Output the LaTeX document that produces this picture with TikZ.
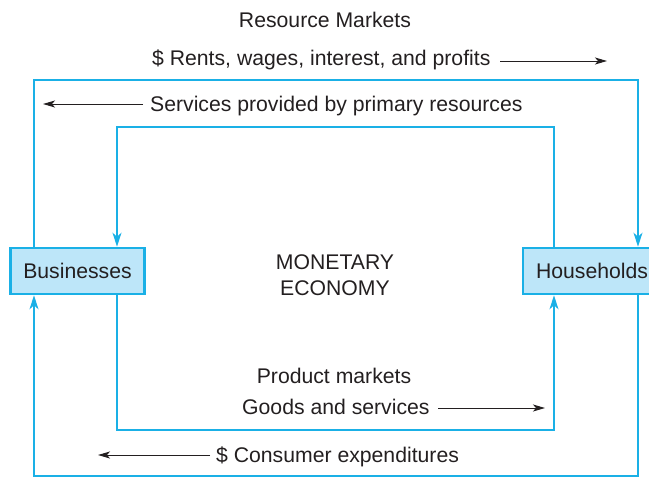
\documentclass[tikz,border=0pt]{standalone}
\usepackage{fontspec}
\setmainfont{Liberation Sans}
\usetikzlibrary{arrows.meta}
\definecolor{cyanline}{HTML}{1AB0E6}
\definecolor{boxfill}{HTML}{BDE6F9}
\definecolor{txt}{HTML}{231F20}
\tikzset{
  flow/.style={draw=cyanline, line width=1.6pt, -{Stealth[length=14pt,width=9pt,inset=4pt]}, line join=miter},
  blk/.style={draw=txt, line width=1pt, -{Stealth[length=12pt,width=7pt,inset=3pt]}},
  agent/.style={draw=cyanline, fill=boxfill, line width=2.6pt, minimum height=46pt, inner sep=0pt, text=txt, font=\fontsize{21.2}{25}\selectfont},
  lbl/.style={inner sep=0pt, text=txt, font=\fontsize{21.2}{25}\selectfont}
}
\begin{document}
\begin{tikzpicture}[x=1pt,y=-1pt]
\useasboundingbox (0,0) rectangle (649,477);
% corner coordinates
\coordinate (otl) at (34,80);
\coordinate (otr) at (638,80);
\coordinate (obl) at (34,476);
\coordinate (obr) at (638,476);
\coordinate (itl) at (117,127);
\coordinate (itr) at (554,127);
\coordinate (ibl) at (117,430);
\coordinate (ibr) at (554,430);
% agents
\node[agent, minimum width=134pt] (bus) at (77.5,271) {Businesses};
\node[agent, minimum width=138pt] (hh) at (592,271) {Households};
% flows
\draw[flow] (bus.north -| otl) -- (otl) -- (otr) -- (hh.north -| otr);
\draw[flow] (hh.north -| itr) -- (itr) -- (itl) -- (bus.north -| itl);
\draw[flow] (bus.south -| ibl) -- (ibl) -- (ibr) -- (hh.south -| ibr);
\draw[flow] (hh.south -| obr) -- (obr) -- (obl) -- (bus.south -| obl);
% redraw boxes on top
\node[agent, minimum width=134pt] at (bus) {Businesses};
\node[agent, minimum width=138pt] at (hh) {Households};
% labels
\node[lbl, anchor=base] (rm) at (325,27.5) {Resource Markets};
\node[lbl, anchor=base west] (rents) at (152,65.5) {\$ Rents, wages, interest, and profits};
\node[lbl, anchor=base west] (serv) at (150,111.5) {Services provided by primary resources};
\node[lbl, anchor=base] (mon) at (335,269.5) {MONETARY};
\node[lbl, anchor=base] (eco) at (335,295.5) {ECONOMY};
\node[lbl, anchor=base] (pm) at (334,383.5) {Product markets};
\node[lbl, anchor=base west] (goods) at (242,414) {Goods and services};
\node[lbl, anchor=base west] (cons) at (216,462) {\$ Consumer expenditures};
% label arrows
\coordinate (a1s) at (500,61); \coordinate (a1e) at (607,61);
\coordinate (a2s) at (143,104); \coordinate (a2e) at (43,104);
\coordinate (a3s) at (438,408); \coordinate (a3e) at (545,408);
\coordinate (a4s) at (210,455); \coordinate (a4e) at (98,455);
\draw[blk] (a1s) -- (a1e);
\draw[blk] (a2s) -- (a2e);
\draw[blk] (a3s) -- (a3e);
\draw[blk] (a4s) -- (a4e);
\end{tikzpicture}
\end{document}
